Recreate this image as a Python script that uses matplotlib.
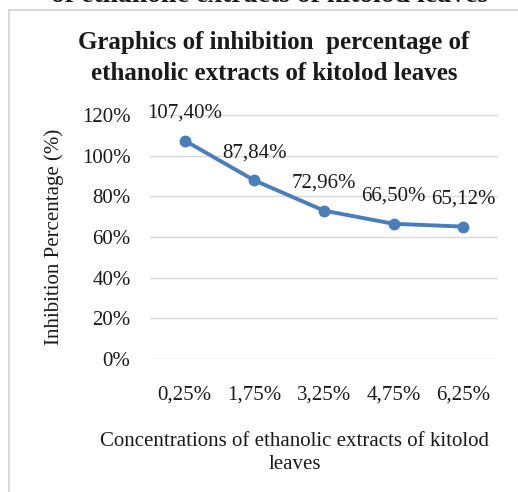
import matplotlib
import numpy as np

matplotlib.use("Agg")
import matplotlib.pyplot as plt
from matplotlib.patches import Rectangle

# data
concentrations = ["0,25%", "1,75%", "3,25%", "4,75%", "6,25%"]
inhibition = [107.40, 87.84, 72.96, 66.50, 65.12]
value_labels = ["107,40%", "87,84%", "72,96%", "66,50%", "65,12%"]
y_ticks = [0, 20, 40, 60, 80, 100, 120]

LINE_COLOR = "#4a7ebb"
GRID_COLOR = "#d9d9d9"
TEXT_COLOR = "#1a1a1a"

plt.rcParams["font.family"] = ["Liberation Serif", "DejaVu Serif"]

W, H = 518, 492
fig = plt.figure(figsize=(W / 100, H / 100), dpi=100)

# chart frame (cut by the page edges)
frame = Rectangle(
    (9 / W, -0.2), 1.2, 1 - 10 / H + 0.2,
    transform=fig.transFigure, fill=False,
    edgecolor=GRID_COLOR, linewidth=1.5,
)
fig.patches.append(frame)

# caption from the page, mostly cut off at top
fig.text(270 / W, 1 - 2 / H, "of ethanolic extracts of kitolod leaves",
         ha="center", va="baseline", fontsize=20, fontweight="bold",
         color=TEXT_COLOR)

ax = fig.add_axes([150 / W, 1 - 359 / H, 348 / W, 244 / H])
x = np.arange(len(concentrations))
ax.plot(x, inhibition, color=LINE_COLOR, linewidth=2.8, marker="o",
        markersize=7.5, zorder=3, solid_capstyle="round")

for xi, yi, lab in zip(x, inhibition, value_labels):
    ax.annotate(lab, (xi, yi), xytext=(0, 20), textcoords="offset points",
                ha="center", va="center", fontsize=15, color=TEXT_COLOR)

ax.set_xlim(-0.5, len(concentrations) - 0.5)
ax.set_ylim(0, 120)
ax.set_yticks(y_ticks)
ax.set_yticklabels([f"{v}%" for v in y_ticks])
ax.set_xticks(x)
ax.set_xticklabels(concentrations)
ax.tick_params(axis="both", length=0, labelsize=15, colors=TEXT_COLOR)
ax.tick_params(axis="y", pad=14)
ax.tick_params(axis="x", pad=19)
ax.grid(True, axis="y", color=GRID_COLOR, linewidth=1.0)
ax.set_axisbelow(True)
for s in ax.spines.values():
    s.set_visible(False)

ax.set_ylabel("Inhibition Percentage (%)", fontsize=15, color=TEXT_COLOR,
              labelpad=13)

fig.text(274 / W, 1 - 58 / H,
         "Graphics of inhibition  percentage of\nethanolic extracts of kitolod leaves",
         ha="center", va="center", fontsize=18, fontweight="bold",
         color=TEXT_COLOR, linespacing=1.42)

fig.text(295 / W, 1 - 453 / H,
         "Concentrations of ethanolic extracts of kitolod\nleaves",
         ha="center", va="center", fontsize=15, color=TEXT_COLOR,
         linespacing=1.3)

fig.savefig("out.png", dpi=100)
